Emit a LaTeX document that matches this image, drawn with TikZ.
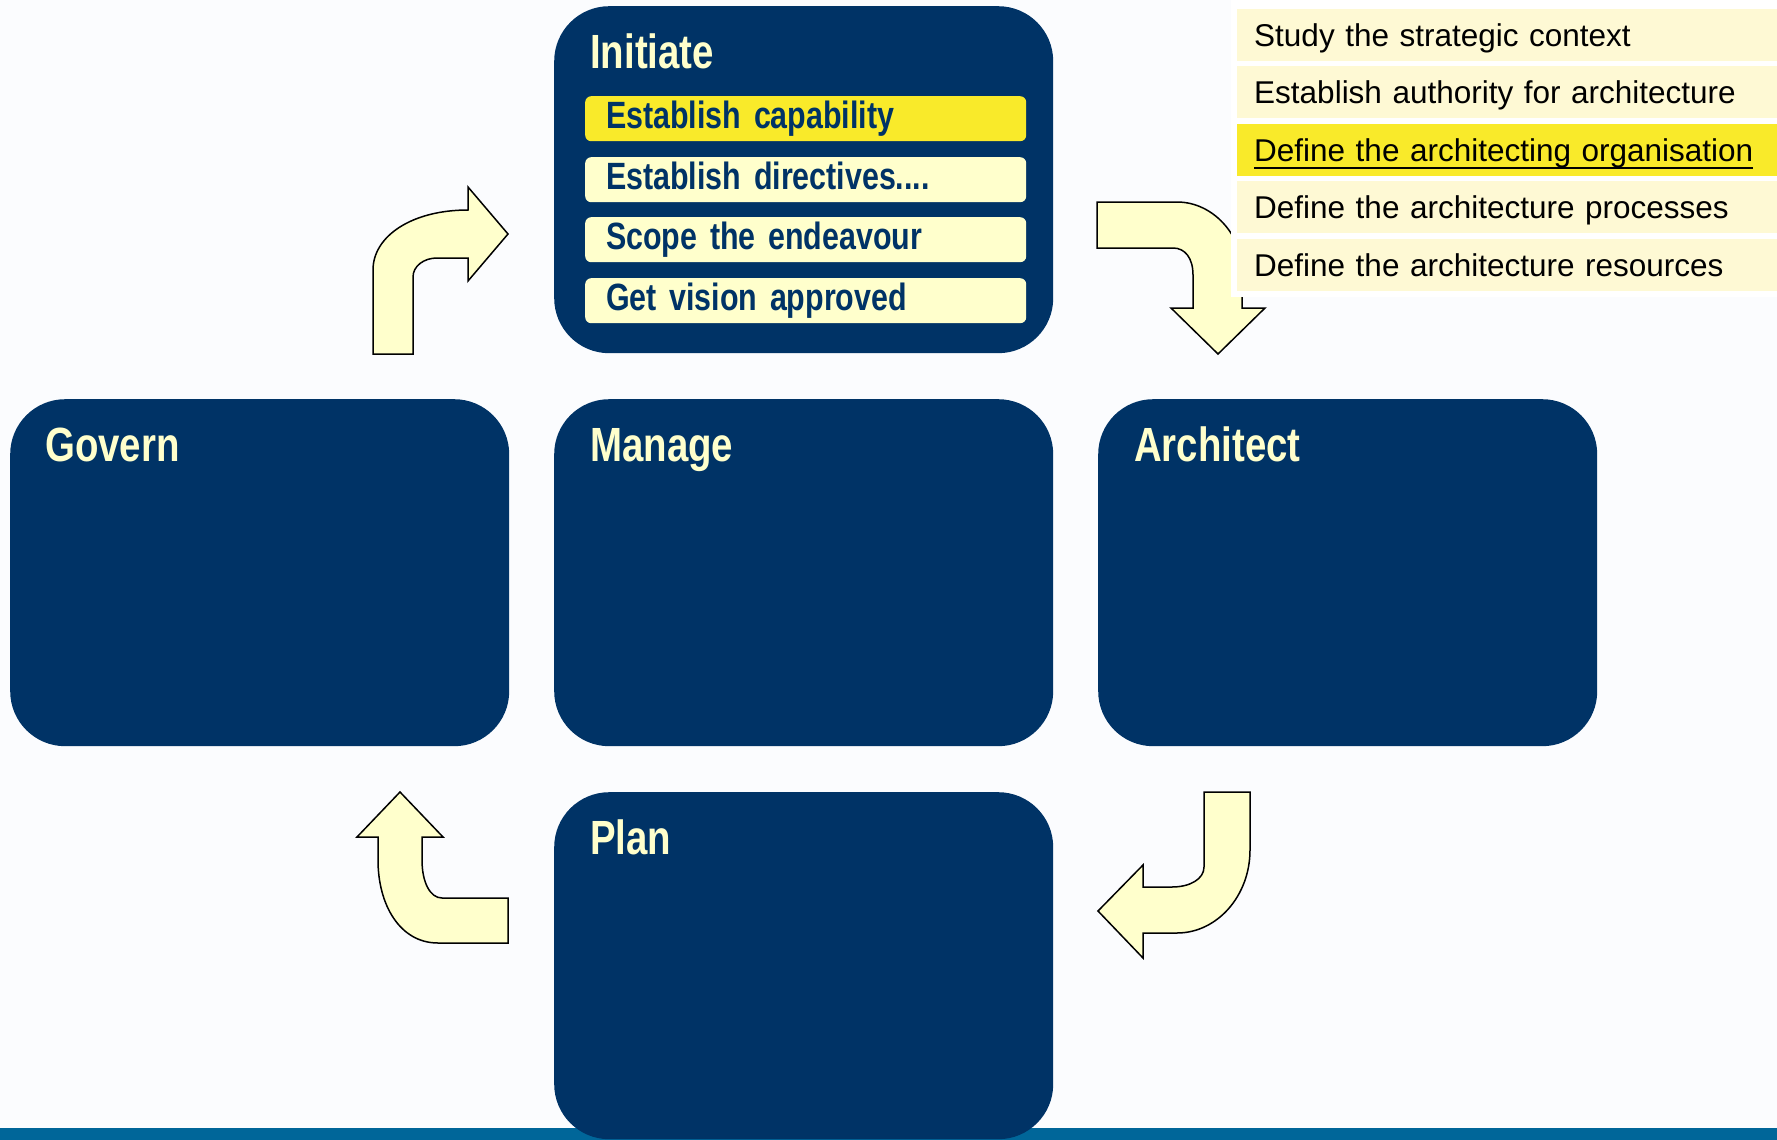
\documentclass[tikz,border=0pt]{standalone}
\usepackage{fontspec}
\usetikzlibrary{positioning}

\newfontfamily\narrowfont[FakeStretch=0.8]{Liberation Sans}
\newfontfamily\panelfont{Liberation Sans}

\definecolor{navyblue}{HTML}{003366}
\definecolor{paleyellow}{HTML}{FFFFCC}
\definecolor{brightyellow}{HTML}{F9EA2A}
\definecolor{panelyellow}{HTML}{FEF9D4}
\definecolor{barblue}{HTML}{006699}
\definecolor{pagewhite}{HTML}{FBFCFE}

\newcommand\ulinetext[1]{\setbox0\hbox{#1}\rlap{\rule[-7.5pt]{\wd0}{1.6pt}}\box0}
\newcommand\tightspaces{\spaceskip=6pt plus 2pt\relax}

\tikzset{
  phase/.style={fill=navyblue, rounded corners=55pt, minimum width=499pt, minimum height=347pt, anchor=north west, inner sep=0pt},
  phasetitle/.style={anchor=base west, inner sep=0pt, text=paleyellow, font=\narrowfont\bfseries\fontsize{48}{50}\selectfont},
  task/.style={fill=paleyellow, rounded corners=6pt, anchor=north west, minimum width=441pt, minimum height=45pt, text width=399pt, inner xsep=21pt, inner ysep=0pt, align=left, text height=27pt, text depth=8pt, text=navyblue, font={\narrowfont\bfseries\fontsize{38}{40}\selectfont\tightspaces}},
  activity/.style={fill=panelyellow, anchor=north west, minimum width=540pt, minimum height=52pt, text width=506pt, inner xsep=17pt, inner ysep=0pt, align=left, text height=22.7pt, text depth=0pt, text=black, font=\panelfont\fontsize{31.5}{33}\selectfont},
  bentarrow/.style={fill=paleyellow, draw=black, line width=1.5pt, line join=miter}
}

\begin{document}
\begin{tikzpicture}[x=1pt,y=-1pt]
    \useasboundingbox (0,0) rectangle (1777,1140);
    \fill[pagewhite] (0,0) rectangle (1777,1140);
    % bar
    \fill[barblue] (0,1128) rectangle (1777,1140);

    % phases
    \node[phase] (initiate) at (554,6) {};
    \node[phase] (govern) at (10,399) {};
    \node[phase] (manage) at (554,399) {};
    \node[phase] (architect) at (1098,399) {};
    \node[phase] (plan) at (554,792) {};

    % titles
    \node[phasetitle] (initiatetitle) at (590,68) {Initiate};
    \node[phasetitle] (governtitle) at (45,461) {Govern};
    \node[phasetitle] (managetitle) at (590,461) {Manage};
    \node[phasetitle] (architecttitle) at (1134,461) {Architect};
    \node[phasetitle] (plantitle) at (590,854) {Plan};

    % initiate tasks
    \node[task, fill=brightyellow] (capability) at (585,96) {Establish capability};
    \node[task] (directives) at (585,157) {Establish directives....};
    \node[task] (scope) at (585,217) {Scope the endeavour};
    \node[task] (vision) at (585,278) {Get vision approved};

    % govern -> initiate
    \draw[bentarrow] (373,354) -- (373,270) .. controls (373,236) and (412,210) .. (468,210)
        -- (468,187) -- (508,234) -- (468,281) -- (468,258) -- (437,258)
        .. controls (424,258) and (413,266) .. (413,277) -- (413,354) -- cycle;
    % initiate -> architect
    \draw[bentarrow] (1097,202) -- (1177,202) .. controls (1213,202) and (1242,235) .. (1242,270)
        -- (1242,308) -- (1265,308) -- (1218,354) -- (1171,308) -- (1193,308) -- (1193,275)
        .. controls (1193,258) and (1185,248) .. (1173,248) -- (1097,248) -- cycle;
    % architect -> plan
    \draw[bentarrow] (1204,792) -- (1250,792) -- (1250,850) .. controls (1250,896) and (1217,933) .. (1177,933)
        -- (1143,933) -- (1143,958) -- (1098,911) -- (1143,865) -- (1143,887) -- (1172,887)
        .. controls (1190,887) and (1204,879) .. (1204,867) -- cycle;
    % plan -> govern
    \draw[bentarrow] (508,898) -- (508,943) -- (438,943) .. controls (400,943) and (378,905) .. (378,860)
        -- (378,837) -- (357,837) -- (400,792) -- (443,837) -- (422,837) -- (422,860)
        .. controls (422,882) and (430,898) .. (442,898) -- cycle;

    % activities panel
    \fill[white] (1231,0) rectangle (1777,297);
    \node[activity] (context) at (1237,9) {Study the strategic context};
    \node[activity] (authority) at (1237,66) {Establish authority for architecture};
    \node[activity, fill=brightyellow] (organisation) at (1237,124) {\ulinetext{Define the architecting organisation}};
    \node[activity] (processes) at (1237,181) {Define the architecture processes};
    \node[activity] (resources) at (1237,239) {Define the architecture resources};
\end{tikzpicture}
\end{document}
